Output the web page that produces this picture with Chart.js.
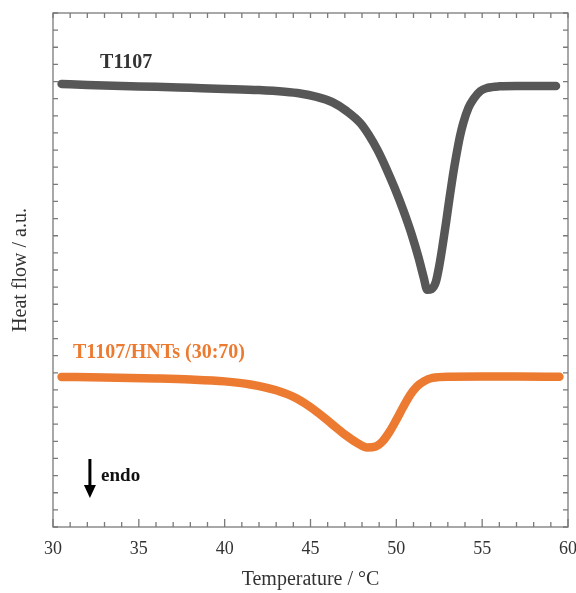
<!DOCTYPE html>
<html>
<head>
<meta charset="utf-8">
<script src="https://cdn.jsdelivr.net/npm/chart.js@4.4.1/dist/chart.umd.min.js"></script>
<style>
  html, body { margin: 0; padding: 0; background: #fff; }
</style>
</head>
<body>
<canvas id="DSC" width="576" height="593"></canvas>
<script>
const tempT1107 = [30.5, 32, 34, 36, 38, 40, 42, 43.5, 44.4, 45.3, 46.3, 47.1, 47.9, 48.4, 48.9, 49.4,
  49.9, 50.4, 50.9, 51.3, 51.6, 51.8, 52.05, 52.3, 52.5, 52.7, 52.9, 53.1, 53.3, 53.5, 53.7, 53.9,
  54.2, 54.5, 54.9, 55.3, 56, 57, 58, 59.3];
const flujoT1107 = [25.86, 25.80, 25.74, 25.69, 25.63, 25.57, 25.50, 25.40, 25.30, 25.12, 24.78, 24.28,
  23.58, 22.88, 22.01, 20.96, 19.79, 18.50, 17.05, 15.70, 14.54, 13.84, 13.89, 14.30, 15.24, 16.46,
  17.80, 19.21, 20.55, 21.72, 22.77, 23.58, 24.46, 24.99, 25.45, 25.63, 25.72, 25.74, 25.74, 25.74];

// T1107/HNTs (30:70)
const tempHNT = [30.5, 33, 36, 38, 40, 41.5, 43, 44.2, 45.2, 46.2, 47.0, 47.7, 48.3, 48.8, 49.2, 49.6,
  50.0, 50.4, 50.8, 51.2, 51.6, 52.1, 53.1, 55, 57, 59.5];
const flujoHNT = [8.76, 8.73, 8.67, 8.61, 8.50, 8.32, 7.98, 7.50, 6.85, 6.05, 5.40, 4.92, 4.64, 4.70,
  5.00, 5.55, 6.25, 7.00, 7.70, 8.20, 8.50, 8.70, 8.77, 8.78, 8.78, 8.77];

const ticksTemp = [30, 35, 40, 45, 50, 55, 60];

const GRIS = '#575757';
const NARANJA = '#EC7A30';
const SERIF = '"Liberation Serif", "Times New Roman", serif';

function puntos(xs, ys) {
  return xs.map((t, i) => ({x: t, y: ys[i]}));
}

// marco, marcas hacia dentro y anotaciones
const marcas = {
  id: 'marcas',
  afterDraw(chart) {
    const ctx = chart.ctx;
    const a = chart.chartArea;
    const x = chart.scales.x;
    const y = chart.scales.y;
    ctx.save();
    ctx.strokeStyle = '#7a7a7a';
    ctx.lineWidth = 1.3;
    ctx.strokeRect(a.left, a.top, a.right - a.left, a.bottom - a.top);
    ctx.beginPath();
    for (let t = 30; t <= 60; t++) {
      const px = x.getPixelForValue(t);
      const largo = t % 5 === 0 ? 8 : 5;
      ctx.moveTo(px, a.bottom); ctx.lineTo(px, a.bottom - largo);
      ctx.moveTo(px, a.top); ctx.lineTo(px, a.top + 5);
    }
    for (let v = 0; v <= 30; v++) {
      const py = y.getPixelForValue(v);
      ctx.moveTo(a.left, py); ctx.lineTo(a.left + 5, py);
      ctx.moveTo(a.right, py); ctx.lineTo(a.right - 5, py);
    }
    ctx.stroke();

    ctx.textBaseline = 'middle';
    ctx.textAlign = 'left';
    ctx.font = 'bold 20px ' + SERIF;
    ctx.fillStyle = '#333';
    ctx.fillText('T1107', x.getPixelForValue(32.74), y.getPixelForValue(27.09));
    ctx.fillStyle = NARANJA;
    ctx.fillText('T1107/HNTs (30:70)', x.getPixelForValue(31.16), y.getPixelForValue(10.16));

    // flecha endo
    const fx = x.getPixelForValue(32.15);
    const arriba = y.getPixelForValue(3.97);
    const punta = y.getPixelForValue(1.69);
    ctx.strokeStyle = '#000';
    ctx.fillStyle = '#000';
    ctx.lineWidth = 3;
    ctx.beginPath();
    ctx.moveTo(fx, arriba);
    ctx.lineTo(fx, punta - 10);
    ctx.stroke();
    ctx.beginPath();
    ctx.moveTo(fx - 6, punta - 13);
    ctx.lineTo(fx + 6, punta - 13);
    ctx.lineTo(fx, punta);
    ctx.closePath();
    ctx.fill();
    ctx.font = 'bold 19px ' + SERIF;
    ctx.fillStyle = '#111';
    ctx.fillText('endo', x.getPixelForValue(32.8), y.getPixelForValue(2.98));
    ctx.restore();
  }
};

new Chart(document.getElementById('DSC'), {
  type: 'line',
  data: {
    datasets: [
      {
        label: 'T1107',
        data: puntos(tempT1107, flujoT1107),
        borderColor: GRIS,
        borderWidth: 8.5,
        pointRadius: 0,
        cubicInterpolationMode: 'monotone',
        borderCapStyle: 'round',
        borderJoinStyle: 'round'
      },
      {
        label: 'T1107/HNTs (30:70)',
        data: puntos(tempHNT, flujoHNT),
        borderColor: NARANJA,
        borderWidth: 8.5,
        pointRadius: 0,
        cubicInterpolationMode: 'monotone',
        borderCapStyle: 'round',
        borderJoinStyle: 'round'
      }
    ]
  },
  options: {
    responsive: false,
    animation: false,
    layout: { autoPadding: false, padding: { top: 13, right: 8, left: 0, bottom: 0 } },
    plugins: { legend: { display: false }, tooltip: { enabled: false } },
    scales: {
      x: {
        type: 'linear',
        min: 30,
        max: 60,
        afterBuildTicks: s => { s.ticks = ticksTemp.map(v => ({value: v})); },
        ticks: { font: { family: SERIF, size: 18 }, color: '#333', padding: 11, maxRotation: 0 },
        grid: { display: false, drawTicks: false },
        border: { display: false },
        title: { display: true, text: 'Temperature / °C', font: { family: SERIF, size: 20 }, color: '#333', padding: { top: 0, bottom: 1 } },
        afterFit: s => { s.height = 66; s.paddingLeft = 0; s.paddingRight = 0; }
      },
      y: {
        min: 0,
        max: 30,
        ticks: { display: false },
        grid: { display: false, drawTicks: false },
        border: { display: false },
        title: { display: true, text: 'Heat flow / a.u.', font: { family: SERIF, size: 20 }, color: '#333', padding: { top: 9, bottom: 0 } },
        afterFit: s => { s.width = 53; s.paddingTop = 0; s.paddingBottom = 0; }
      }
    }
  },
  plugins: [marcas]
});
</script>
</body>
</html>
